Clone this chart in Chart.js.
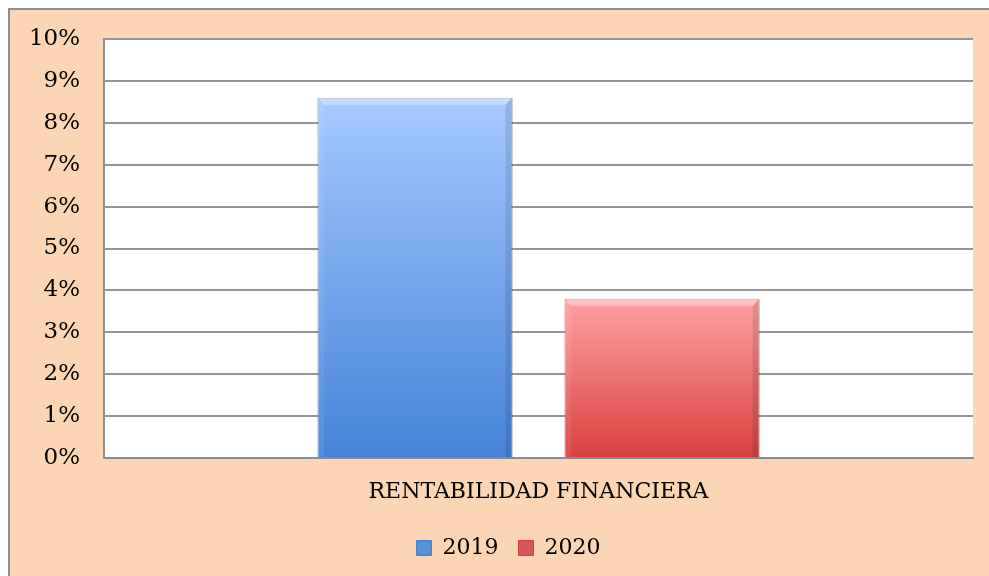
<!DOCTYPE html>
<html>
<head>
<meta charset="utf-8">
<script src="https://cdn.jsdelivr.net/npm/chart.js@4.4.1/dist/chart.umd.min.js"></script>
<style>
  html, body { margin: 0; padding: 0; background: #ffffff; }
  #wrap { width: 989px; height: 576px; position: relative; }
</style>
</head>
<body>
<div id="wrap"><canvas id="chart" width="989" height="576"></canvas></div>
<script>
// chart data
var categories = ['RENTABILIDAD FINANCIERA'];
var seriesNames = ['2019', '2020'];
var values2019 = [8.6];
var values2020 = [3.8];
var yTicks = [0, 1, 2, 3, 4, 5, 6, 7, 8, 9, 10];

var FONT = 'DejaVu Serif';
var colorsTop = ['#a5caff', '#ffa2a2'];
var colorsBottom = ['#4583d8', '#d8403d'];
var colorsLegend = ['#5b8fd6', '#d2575a'];

// vertical gradient for one bar, from its own top to the base
function barGradient(i) {
    return function(ctx) {
        var chart = ctx.chart, area = chart.chartArea;
        if (!area || !chart.scales.y || ctx.raw === undefined) {
            return colorsLegend[i];
        }
        var top = chart.scales.y.getPixelForValue(ctx.raw);
        var g = chart.ctx.createLinearGradient(0, top, 0, area.bottom);
        g.addColorStop(0, colorsTop[i]);
        g.addColorStop(1, colorsBottom[i]);
        return g;
    };
}

// peach frame and white plot area behind everything
var framePlugin = {
    id: 'frame',
    beforeDraw: function(chart) {
        var c = chart.ctx, a = chart.chartArea;
        c.save();
        c.fillStyle = '#ffffff';
        c.fillRect(0, 0, chart.width, chart.height);
        c.fillStyle = '#fcd5b4';
        c.fillRect(9, 9, chart.width, chart.height);
        c.strokeStyle = '#8e8e8e';
        c.lineWidth = 2;
        c.beginPath();
        c.moveTo(9, chart.height);
        c.lineTo(9, 9);
        c.lineTo(chart.width, 9);
        c.stroke();
        c.fillStyle = '#ffffff';
        c.fillRect(a.left, a.top, a.right - a.left, a.bottom - a.top);
        c.restore();
    },
    // legend sits a bit right of centre in the original
    afterLayout: function(chart) {
        var lg = chart.legend;
        if (lg) {
            lg.left += 22;
            lg.right += 22;
        }
    }
};

// soft bevel on bar edges
var bevelPlugin = {
    id: 'bevel',
    afterDatasetsDraw: function(chart) {
        var c = chart.ctx;
        chart.data.datasets.forEach(function(ds, i) {
            chart.getDatasetMeta(i).data.forEach(function(bar) {
                var p = bar.getProps(['x', 'y', 'base', 'width'], true);
                var l = p.x - p.width / 2, r = p.x + p.width / 2, t = p.y, b = p.base, e = 7;
                c.save();
                c.fillStyle = 'rgba(255,255,255,0.35)';
                c.beginPath();
                c.moveTo(l, t); c.lineTo(r, t); c.lineTo(r - e, t + e); c.lineTo(l + e, t + e);
                c.closePath(); c.fill();
                c.fillStyle = 'rgba(255,255,255,0.08)';
                c.beginPath();
                c.moveTo(l, t); c.lineTo(l + e, t + e); c.lineTo(l + e, b); c.lineTo(l, b);
                c.closePath(); c.fill();
                c.fillStyle = 'rgba(0,0,0,0.10)';
                c.beginPath();
                c.moveTo(r, t); c.lineTo(r - e, t + e); c.lineTo(r - e, b); c.lineTo(r, b);
                c.closePath(); c.fill();
                c.restore();
            });
        });
    }
};

var chart = new Chart(document.getElementById('chart'), {
    type: 'bar',
    data: {
        labels: categories,
        datasets: [{
            label: seriesNames[0],
            data: values2019,
            backgroundColor: barGradient(0),
            borderColor: 'rgba(40,80,140,0.6)',
            borderWidth: 1
        }, {
            label: seriesNames[1],
            data: values2020,
            backgroundColor: barGradient(1),
            borderColor: 'rgba(130,40,40,0.6)',
            borderWidth: 1
        }]
    },
    plugins: [framePlugin, bevelPlugin],
    options: {
        responsive: false,
        animation: false,
        categoryPercentage: 0.5685,
        barPercentage: 0.79,
        layout: { padding: { left: 0, right: 16, top: 39, bottom: 7 } },
        plugins: {
            tooltip: { enabled: false },
            legend: {
                position: 'bottom',
                labels: {
                    font: { family: FONT, size: 22 },
                    color: '#000000',
                    boxWidth: 15,
                    boxHeight: 15,
                    padding: 20,
                    generateLabels: function(chart) {
                        return chart.data.datasets.map(function(ds, i) {
                            return {
                                text: ds.label,
                                fillStyle: colorsLegend[i],
                                strokeStyle: colorsBottom[i],
                                lineWidth: 1,
                                datasetIndex: i
                            };
                        });
                    }
                }
            }
        },
        scales: {
            x: {
                grid: { display: false, drawTicks: false },
                border: { display: true, color: '#8a8a8a', width: 2 },
                ticks: { font: { family: FONT, size: 22 }, color: '#000000', padding: 21 },
                afterFit: function(scale) { scale.height = 59; }
            },
            y: {
                min: yTicks[0],
                max: yTicks[yTicks.length - 1],
                afterBuildTicks: function(scale) {
                    scale.ticks = yTicks.map(function(v) { return { value: v }; });
                },
                grid: { color: '#959595', lineWidth: 2, drawTicks: false },
                border: { display: true, color: '#8e8e8e', width: 2 },
                ticks: {
                    font: { family: FONT, size: 23 },
                    color: '#000000',
                    padding: 24,
                    callback: function(v) { return v + '%'; }
                },
                afterFit: function(scale) { scale.width = 104; }
            }
        }
    }
});
</script>
</body>
</html>
